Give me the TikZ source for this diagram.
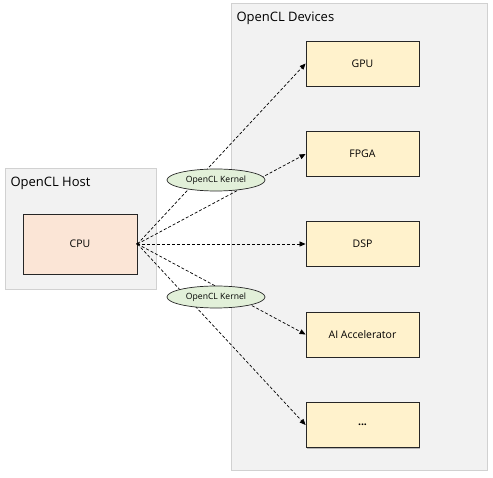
\documentclass[tikz,border=0pt]{standalone}
\usepackage{fontspec}
\setmainfont{Open Sans}
\usetikzlibrary{shapes.geometric,arrows.meta,shadows}
\begin{document}
\begin{tikzpicture}[x=1pt,y=-1pt,
  container/.style={draw=black!18,fill=black!5,line width=0.8pt,
    drop shadow={shadow xshift=1pt,shadow yshift=-1pt,opacity=0.15,fill=black}},
  devbox/.style={draw=black!85,fill={rgb,255:red,255;green,242;blue,204},
    line width=0.8pt,minimum width=113pt,minimum height=45pt,inner sep=0pt,
    font=\fontsize{10.5}{12}\selectfont,
    drop shadow={shadow xshift=1pt,shadow yshift=-1pt,opacity=0.25,fill=black}},
  cpubox/.style={devbox,fill={rgb,255:red,251;green,229;blue,214},minimum width=114pt,minimum height=60pt},
  kernel/.style={ellipse,draw=black!85,fill={rgb,255:red,226;green,240;blue,217},line width=0.7pt,
    minimum width=98pt,minimum height=22pt,inner sep=0pt,font=\fontsize{8.6}{10}\selectfont},
  conn/.style={draw=black,line width=0.7pt,dash pattern=on 3pt off 2pt,
    -{Triangle[length=6pt,width=5pt]}},
  title/.style={anchor=west,font=\fontsize{13}{15}\selectfont}
]
\useasboundingbox (0,0) rectangle (493,478);
% containers
\path[container] (231,3) rectangle (487,470);
\path[container] (5,168) rectangle (156,289);
\node[title] (devt) at (233,18) {OpenCL Devices};
\node[title] (hostt) at (7,183) {OpenCL Host};
% boxes
\node[cpubox] (cpu) at (80,244) {CPU};
\node[devbox] (gpu) at (362.5,63.5) {GPU};
\node[devbox] (fpga) at (362.5,154) {FPGA};
\node[devbox] (dsp) at (362.5,244) {DSP};
\node[devbox] (ai) at (362.5,334.5) {AI Accelerator};
\node[devbox] (more) at (362.5,425) {\textbf{...}};
% connectors
\coordinate (src) at (cpu.east);
\foreach \t in {gpu,fpga,dsp,ai,more}
  \draw[conn] (src) -- (\t.west);
\fill (src) circle (1.4pt);
% kernels
\node[kernel] (k1) at (216,180) {OpenCL Kernel};
\node[kernel] (k2) at (216,297) {OpenCL Kernel};
\end{tikzpicture}
\end{document}
